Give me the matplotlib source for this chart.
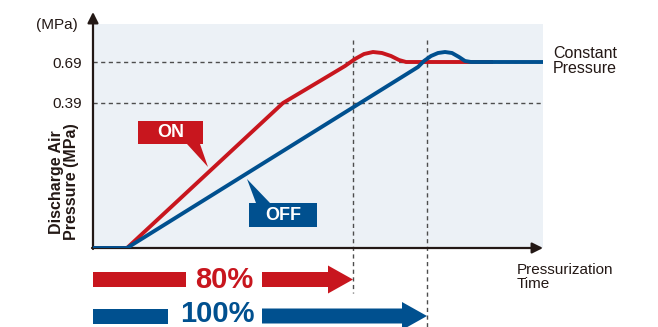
import numpy as np
import matplotlib.pyplot as plt
from matplotlib.patches import Polygon, Rectangle, FancyArrow

plt.rcParams['font.family'] = ['Liberation Sans', 'DejaVu Sans']

RED = "#c8161e"
BLUE = "#00508f"
INK = "#231815"

# schematic pressure curves (time units, level units above baseline)
time_on = [0, 34, 190, 237, 252, 262, 271, 280, 289, 298, 306, 313, 400]
press_on = [0, 0, 145, 173, 182, 189, 194, 196, 195, 192, 188, 186, 186]
time_off = [0, 34, 325, 331, 338, 345, 352, 359, 366, 372, 378, 450]
press_off = [0, 0, 181, 187, 192, 195, 196, 195, 191, 187, 186, 186]

tick_levels = [145, 186]
tick_labels = ["0.39", "0.69"]

load_labels = ["80%", "100%"]
load_end = [260, 334]          # time at which each load reaches constant pressure
load_colors = [RED, BLUE]

fig = plt.figure(figsize=(6.58, 3.27), dpi=100)
ax = fig.add_axes([93 / 658, 79 / 327, 450 / 658, 224 / 327])
ax.set_xlim(0, 450)
ax.set_ylim(0, 224)
ax.set_facecolor("#ecf1f6")
for s in ax.spines.values():
    s.set_visible(False)
ax.set_xticks([])
ax.set_yticks(tick_levels, tick_labels)
ax.tick_params(axis="y", length=0, pad=8, labelsize=11, labelcolor=INK)

# reference levels and load end markers
for lv in tick_levels:
    ax.plot([0, 450], [lv, lv], color="#4d4d4d", lw=1.0, dashes=(3, 2.5), zorder=1)
ax.plot([load_end[0]] * 2, [208, -45], color="#4d4d4d", lw=1.0, dashes=(3, 2.5),
        clip_on=False, zorder=1)
ax.plot([load_end[1]] * 2, [208, -80], color="#4d4d4d", lw=1.0, dashes=(3, 2.5),
        clip_on=False, zorder=1)

ax.plot(time_on, press_on, color=RED, lw=2.8, solid_capstyle="butt", zorder=3)
ax.plot(time_off, press_off, color=BLUE, lw=2.8, solid_capstyle="butt", zorder=4)

# axes with arrow heads
arrow_kw = dict(arrowstyle="-|>", lw=1.6, color=INK, mutation_scale=16,
                shrinkA=0, shrinkB=0)
ax.annotate("", xy=(0, 236), xytext=(0, -1), arrowprops=arrow_kw, annotation_clip=False)
ax.annotate("", xy=(450, 0), xytext=(-1, 0), arrowprops=arrow_kw, annotation_clip=False)

ax.text(-15, 223, "(MPa)", ha="right", va="center", fontsize=11, color=INK, clip_on=False)
ax.text(-29, 66, "Discharge Air\nPressure (MPa)", rotation=90, ha="center", va="center",
        fontsize=11.5, fontweight="bold", color=INK, linespacing=1.0, clip_on=False)
ax.text(460, 187, "Constant\nPressure", ha="left", va="center", fontsize=11.5,
        color=INK, linespacing=1.0, clip_on=False)
ax.text(424, -29, "Pressurization\nTime", ha="left", va="center", fontsize=11,
        color=INK, linespacing=0.95, clip_on=False)

# callouts
on_box = [(45, 127), (110, 127), (110, 104), (107, 104), (115, 81), (94, 104), (45, 104)]
off_box = [(156, 45), (163, 45), (154, 69), (177, 45), (224, 45), (224, 21), (156, 21)]
ax.add_patch(Polygon(on_box, closed=True, facecolor=RED, edgecolor="none", zorder=5))
ax.add_patch(Polygon(off_box, closed=True, facecolor=BLUE, edgecolor="none", zorder=5))
ax.text(77.5, 115.5, "ON", ha="center", va="center", color="white", fontsize=13,
        fontweight="bold", zorder=6)
ax.text(190, 33, "OFF", ha="center", va="center", color="white", fontsize=13,
        fontweight="bold", zorder=6)

# load ratio arrows below the time axis
arrow_y = [-31.5, -68]
text_dy = [-1, 2]
gaps = [(93, 169), (75, 169)]
text_x = [131, 124]
for lab, end, col, y, dy, (g0, g1), tx in zip(load_labels, load_end, load_colors,
                                              arrow_y, text_dy, gaps, text_x):
    ax.add_patch(Rectangle((0, y - 7.5), g0, 15, facecolor=col, edgecolor="none",
                           clip_on=False))
    ax.add_patch(FancyArrow(g1, y, end - g1, 0, width=15, head_width=28, head_length=25,
                            length_includes_head=True, facecolor=col, edgecolor="none",
                            clip_on=False))
    ax.text(tx, y + dy, lab, ha="center", va="center", color=col, fontsize=21,
            fontweight="bold", clip_on=False)

fig.savefig("out.png", dpi=100)
